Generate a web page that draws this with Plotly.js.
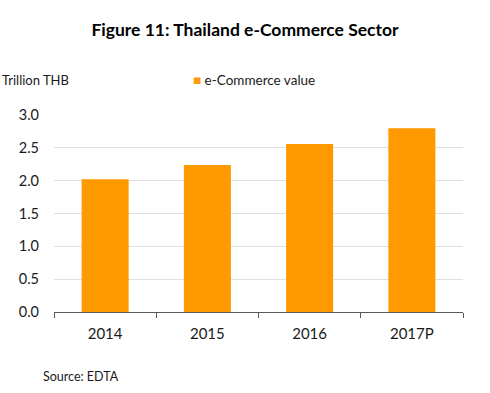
<!DOCTYPE html>
<html>
<head>
<meta charset="utf-8">
<script src="https://cdn.plot.ly/plotly-3.0.1.min.js"></script>
<style>html,body{margin:0;padding:0;background:#fff;}#chart{width:490px;height:393px;}</style>
</head>
<body>
<div id="chart"></div>
<script>
const categories = ["2014", "2015", "2016", "2017P"];
const ecommerceValue = [2.02, 2.24, 2.56, 2.80];
const seriesName = "e-Commerce value";
const yTickVals = [0, 0.5, 1.0, 1.5, 2.0, 2.5, 3.0];
const yTickText = ["0.0", "0.5", "1.0", "1.5", "2.0", "2.5", "3.0"];
const barColor = "#FF9900";

const FONT = "Lato, 'Open Sans', sans-serif";
const trace = {
  type: "bar",
  x: categories,
  y: ecommerceValue,
  name: seriesName,
  marker: {color: barColor},
  showlegend: false,
  hoverinfo: "x+y"
};
const layout = {
  width: 490, height: 393,
  margin: {l: 54, r: 27, t: 115, b: 81},
  paper_bgcolor: "#fff", plot_bgcolor: "#fff",
  font: {family: FONT, size: 14, color: "#1a1a1a"},
  bargap: 0.54,
  title: {text: "<b>Figure 11: Thailand e-Commerce Sector</b>", font: {family: FONT, size: 17.5, color: "#000"}, x: 0.5, xref: "container", xanchor: "center", y: 0.925, yref: "container", yanchor: "middle"},
  xaxis: {
    type: "category", showgrid: false, showline: true, linecolor: "#595959", linewidth: 1,
    ticks: "outside", tickson: "boundaries", ticklen: 5, tickcolor: "#595959", ticklabelstandoff: 8,
    tickfont: {family: FONT, size: 15, color: "#1a1a1a"}, fixedrange: true
  },
  yaxis: {
    range: [0, 3.0], tickvals: yTickVals, ticktext: yTickText, showgrid: true, gridcolor: "#e0e0e0", gridwidth: 1,
    zeroline: false, showline: false, ticks: "", ticklabelstandoff: 14,
    tickfont: {family: FONT, size: 14.5, color: "#1a1a1a"}, fixedrange: true
  },
  showlegend: false,
  annotations: [
    {text: "Trillion THB", xref: "paper", yref: "paper", x: -0.132, y: 1.18, xanchor: "left", yanchor: "middle", showarrow: false, font: {family: FONT, size: 13, color: "#1a1a1a"}},
    {text: "<span style='color:" + barColor + "'>■</span> " + seriesName, xref: "paper", yref: "paper", x: 0.335, y: 1.18, xanchor: "left", yanchor: "middle", showarrow: false, font: {family: FONT, size: 13.5, color: "#1a1a1a"}},
    {text: "Source: EDTA", xref: "paper", yref: "paper", x: -0.032, y: -0.325, xanchor: "left", yanchor: "middle", showarrow: false, font: {family: FONT, size: 12.5, color: "#1a1a1a"}}
  ]
};
Plotly.newPlot("chart", [trace], layout, {displayModeBar: false, staticPlot: true});
</script>
</body>
</html>
